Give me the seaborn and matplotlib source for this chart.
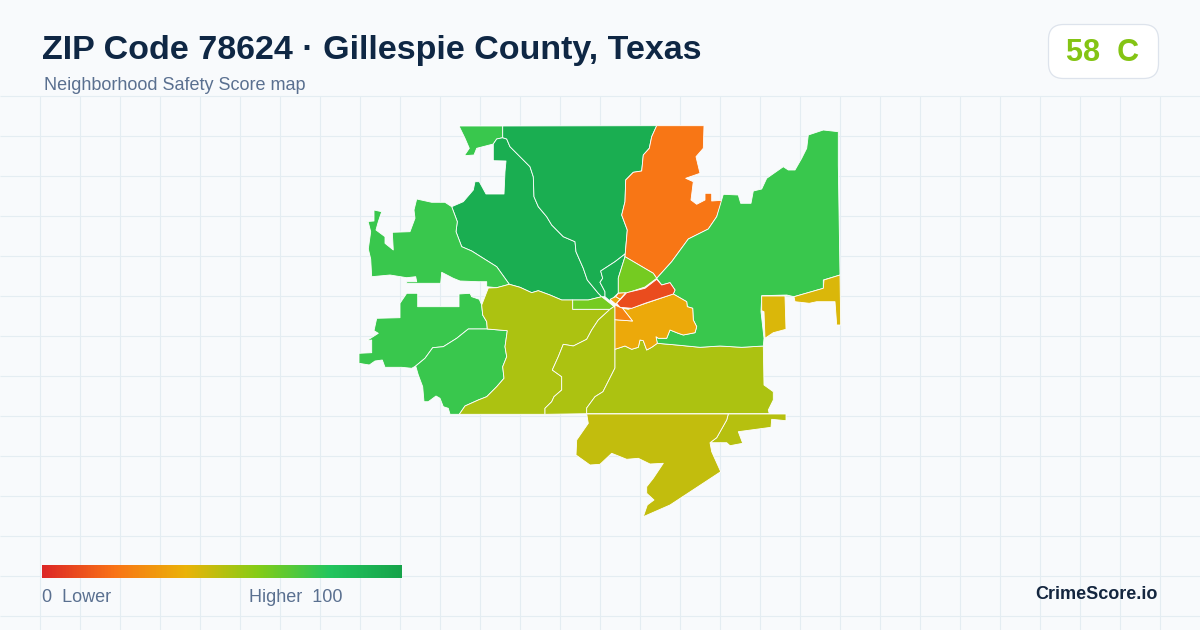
import numpy as np
import seaborn as sns
import matplotlib.pyplot as plt
from matplotlib.patches import FancyBboxPatch

# score scale used by the map and the legend bar
scale_colors = ['#dc2626', '#f97316', '#eab308', '#84cc16', '#22c55e', '#16a34a']

title = 'ZIP Code 78624 · Gillespie County, Texas'
subtitle = 'Neighborhood Safety Score map'
grade = '58  C'

# shared tract borders
edge_north = [(502.7,137.7),(506.7,139),(510,146.7),(520,156.7),(530,166.7),(533.3,176.7),(534,196.7),
              (538.3,206.7),(546.7,216.7),(551.7,225),(563.3,236.7),(575,241.7),(576,251.7),(583.3,268.3),
              (587.3,280),(598.3,293.3),(601.7,296.7)]
edge_west = [(451.7,206.7),(457.3,221.7),(456,231.7),(461.7,246.7),(471.7,251),(483.3,258.3),(496.7,266.7),
             (509.3,284.3)]
edge_ridge = [(509.3,284.3),(520,287.3),(531.7,292.7),(538.3,290.7),(550,295),(561.7,300)]
edge_sw = [(487.3,329),(468.3,329),(456.7,338.3),(443.3,346.7),(432.7,347.7),(425,358.3),(415.7,366)]
edge_olive = [(459.3,414.3),(465,406),(478.3,400),(486.7,396.7),(496.7,386.7),(504,378.3),(502.7,366.7),
              (506.7,356.7),(505,346.7),(507.3,330.7),(487.3,329)]
edge_creek = [(610,309.3),(598.3,320),(591.7,330),(586.7,339.3),(573.3,346),(563.3,344.3),(558.3,356.7),
              (552.3,370),(561.7,376.7),(561.7,390),(554,396.7),(551.7,401.7),(545,408.3),(545,414.3)]
edge_central = [(615,349.3),(615,368),(603,391.7),(595,396.7),(586.7,408),(586.7,413.7)]
edge_river = [(615,349.3),(625,346),(631.7,349.3),(638.3,347.3),(640,340),(643.3,340.7),(646.7,350),
              (651.7,347.3),(657.3,343.3)]
edge_river2 = [(657.3,343.3),(676.7,345),(700,347.3),(720,346),(741.7,347.3),(763.3,346)]
edge_orange = [(656.7,125.7),(651.7,136.7),(649.3,148.3),(643.3,155),(641.7,171),(633.3,172.3),(625.7,180),
               (625,201.7),(621.7,215),(627.3,230),(625,256.7)]
edge_orange_east = [(722.3,200.3),(716.7,216.7),(708.3,229),(688.3,239),(671.7,261.7),(656.7,278.3)]
edge_amber = [(673.3,294),(686.7,301.7),(687.3,306.7),(692.7,308.3),(693.3,320),(696.7,326.7),(695,332.7),
              (683.3,335),(678.3,333.3),(670,330),(666.7,338.3),(658.3,338.3),(656,336.7),(657.3,343.3)]
edge_south = [(728.3,414),(726.7,420),(716.7,437.7),(710,442.7)]
edge_wedge = [(625,254),(615,261.7),(600.7,271),(602.7,278.3),(600,282.3),(605,291.7),(605,296.7)]

# (outline, score) for every tract
north_sliver = [(459,126),(502.7,126),(502.7,137.7),(496.7,139),(493.3,144),(476.7,148.3),(474,155),(464.3,155.7),
                (469.3,148.3),(465,138.3)]
dark_west = edge_north + [(588.3,300)] + edge_ridge[::-1] + edge_west[::-1] + [
    (463.3,201.7),(473.3,190),(475,181.7),(479.3,181.7),(486,194),(504,194),(505,171.7),(506,161),(493.3,160.7),
    (493.3,144),(496.7,139)]
dark_north = [(502.7,126)] + edge_orange + edge_wedge + [(601.7,296.7)] + edge_north[::-1]
dark_wedge = edge_wedge + [(610,301),(618.3,293),(618.3,278),(625,256.7)]
west_green = [(416.7,199),(431.7,202.3),(445,202.3)] + edge_west + [
    (496.7,287.7),(486.7,286.7),(486.7,281.7),(478.3,281.7),(460,281),(453.3,278.3),(441.7,272.3),(440.7,283.3),
    (406.7,283.3),(406.7,281.7),(416.7,281.7),(415.7,276.7),(406.7,277.7),(390,275),(371.7,276.7),(370.7,259),
    (368.3,249),(370.7,231.7),(368.3,222.3),(365,221.7),(374,221),(374,210),(381.7,211.7),(378.3,221.7),(376,230),
    (385,236.7),(385,243.3),(393.3,250),(392.3,232.3),(410,231.7),(415,218.3),(414,210)]
sw_green = [(406.7,293.3),(417.7,293.3),(417.7,306.7),(459,306.7),(459,294),(470,293.3),(471.7,296.7),(479.3,299.3),
            (481.7,305),(482.7,315),(486.7,321.7)] + edge_sw + [
    (411.7,368.3),(401.7,367.3),(385,367.3),(382.3,360),(375,361),(369.3,365),(359,363.3),(359,353.3),(371.7,352.7),
    (371.7,340),(366.7,340.7),(378.3,333.3),(374,330.7),(376.7,318.3),(400,317.7),(400,303.3)]
inner_green = edge_sw + [(418.3,375),(422.7,386.7),(424,401.7),(428.3,401.7),(436,396),(440,398.3),(443.3,406.7),
                         (448.3,408.3),(450,414.3)] + edge_olive
olive_west = [(488.3,288),(496.7,287.7)] + edge_ridge + [(572.7,300),(572.7,309.3)] + edge_creek + edge_olive + [
    (486.7,321.7),(482.7,315),(481.7,305)]
lime_strip = [(572.7,300),(588.3,300),(601.7,296.7),(614,306.5),(610,309.3),(572.7,309.3)]
olive_mid = [(610,309.3),(614,306.5),(615,307.3)] + edge_central + edge_creek[::-1]
olive_east = edge_river + edge_river2 + [(764,385),(773.3,391.7),(773.3,400),(768.3,410),(769.3,413.7)] + \
    edge_central[::-1]
olive_se = edge_south + [(726.7,442.7),(730,445.7),(742.7,443.3),(738.3,431.7),(771,427.3),(771.7,419.3),(786,420.7),
                         (786,414)]
olive_south = [(586.7,414)] + edge_south + [(711.7,451.7),(720.7,471.7),(670,505),(643.3,516.7),(647.3,505),(654,500),
    (646.7,493.3),(646.7,486.7),(653.3,478.3),(663.3,463.3),(650,464),(638.3,458.3),(626.7,459.3),(611.7,453.3),
    (600,464.3),(590,465),(576,455),(576.7,440),(588.3,423.3)]
orange_big = edge_orange + [(653.3,273.3)] + edge_orange_east[::-1] + [
    (711.7,201),(711.7,193.3),(705,193.3),(705,200),(696.7,204.3),(691,200),(693.3,181.7),(685.7,178.3),(700,173.3),
    (696,156.7),(703.3,148.3),(704,125.7)]
lime_north = [(625,256.7),(653.3,273.3),(656.7,278.3),(645,287),(626.7,293),(618.3,293),(618.3,278)]
red_core = [(656.7,279.3),(661.7,285),(670,282.7),(675,290),(673.3,294),(645,303.3),(631.7,308.3),(620,307.3),
            (616.7,303.3),(626.7,292.7),(645,288.3)]
orange_tip = [(618.3,293.3),(625.7,292.7),(620,299.3),(615.7,296.7)]
amber_tip = [(615.7,296.7),(620,299.3),(615.7,304),(610,299.3)]
orange_small = [(615,305),(620,307.3),(622.5,308.2),(632.5,321),(615,319.7)]
amber_big = [(615,319.7),(632.5,321),(622.5,308.2),(628.3,309.3)] + edge_amber + edge_river[::-1][1:]
east_green = edge_orange_east[::-1][:-1][::-1] + [(656.7,278.3),(661.7,285),(670,282.7),(675,290)] + edge_amber + \
    edge_river2[1:] + [(764,338.3),(761,311.7),(761.7,295.7),(786.7,295),(794,296.7),(823.3,288.3),(823.3,280),
                       (840,275),(838.3,165),(838.3,131.7),(823.3,130),(808.3,135),(806.7,148.3),(801.7,158.3),
                       (795,170),(788.3,170),(783.3,166.7),(766.7,178.3),(761.7,189),(753.3,191),(751,203.3),
                       (740.7,203.3),(738.3,195),(723.3,194.3)]
yellow_strip = [(840,275),(840.7,325),(836.7,325),(835,301.7),(816.7,301.7),(809.3,303.3),(795,301.7),(794,296.7),
                (823.3,288.3),(824,280)]
yellow_block = [(761.7,296),(785,296),(786,329.3),(773.3,332.7),(765,338.3),(764,311.7),(761.7,310.7)]

outlines = [north_sliver, dark_west, dark_north, dark_wedge, west_green, sw_green, inner_green, olive_west, lime_strip,
            olive_mid, olive_east, olive_se, olive_south, orange_big, lime_north, east_green, amber_big, red_core,
            orange_tip, amber_tip, orange_small, yellow_strip, yellow_block]
scores = [75, 93, 93, 93, 75, 75, 75, 52, 63,
          52, 52, 50, 48, 21, 63, 75, 37, 10,
          25, 36, 25, 43, 43]

sns.set_theme(style='white')
plt.rcParams['font.family'] = ['Liberation Sans', 'DejaVu Sans']

cmap = sns.blend_palette(scale_colors, as_cmap=True)

fig = plt.figure(figsize=(12, 6.3), dpi=100, facecolor='#f8fafc')
ax = fig.add_axes([0, 0, 1, 1], facecolor='#f8fafc')
ax.set_xlim(0, 1200)
ax.set_ylim(630, 0)
ax.axis('off')

# background grid
ax.vlines(np.arange(40, 1200, 40), 96, 630, color='#e4edf2', lw=0.8, zorder=1)
ax.hlines(np.arange(96, 630, 40), 0, 1200, color='#e4edf2', lw=0.8, zorder=1)

for outline, score in zip(outlines, scores):
    xs, ys = zip(*outline)
    ax.fill(xs, ys, facecolor=cmap(score / 100), edgecolor='white', lw=0.6, joinstyle='round', zorder=2)

ax.text(42, 59, title, fontsize=24.45, fontweight='bold', color='#0f2744', zorder=3)
ax.text(44, 90.5, subtitle, fontsize=12.95, color='#5a7090', zorder=3)

# grade badge
ax.add_patch(FancyBboxPatch((1048.5, 24.5), 110, 54, boxstyle='round,pad=0,rounding_size=15',
                            facecolor='white', edgecolor='#dde3ec', lw=0.9, zorder=3))
ax.text(1103, 61, grade, fontsize=22, fontweight='bold', color='#84c414', ha='center', zorder=4)

# legend bar
bar_ax = fig.add_axes([42 / 1200, 1 - 578 / 630, 360 / 1200, 13 / 630])
sns.heatmap(np.linspace(0, 100, 256).reshape(1, -1), cmap=cmap, vmin=0, vmax=100, cbar=False,
            xticklabels=False, yticklabels=False, ax=bar_ax)
ax.text(42, 602.5, '0  Lower', fontsize=12.95, color='#5a7090', zorder=3)
ax.text(249, 602.5, 'Higher  100', fontsize=12.95, color='#5a7090', zorder=3)

ax.text(1158, 599, 'CrimeScore.io', fontsize=13.0, fontweight='bold', color='#14263f', ha='right', zorder=3)

fig.savefig('out.png', dpi=100, facecolor=fig.get_facecolor())
plt.close(fig)
